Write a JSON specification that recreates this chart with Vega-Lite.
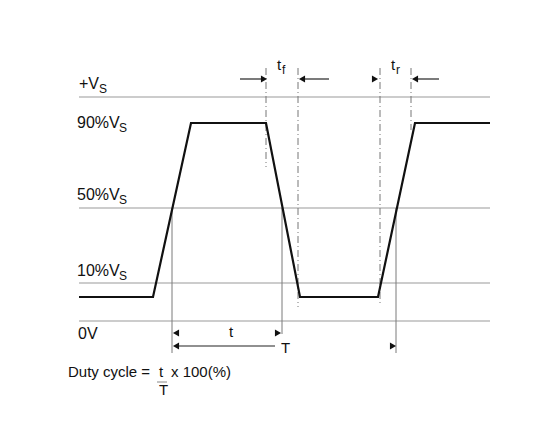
{
  "$schema": "https://vega.github.io/schema/vega-lite/v6.json",
  "width": 546,
  "height": 441,
  "autosize": {"type": "fit", "contains": "padding"},
  "padding": 0,
  "background": "white",
  "config": {"view": {"stroke": null}},
  "datasets": {
    "levels": [
      {"name": "+Vs", "x": 79, "x2": 490, "y": 97},
      {"name": "50%Vs", "x": 79, "x2": 490, "y": 208},
      {"name": "10%Vs", "x": 79, "x2": 490, "y": 283},
      {"name": "0V", "x": 79, "x2": 490, "y": 321}
    ],
    "wave": [
      {"i": 0, "x": 79, "y": 297},
      {"i": 1, "x": 153, "y": 297},
      {"i": 2, "x": 191, "y": 123},
      {"i": 3, "x": 266, "y": 123},
      {"i": 4, "x": 300, "y": 297},
      {"i": 5, "x": 378, "y": 297},
      {"i": 6, "x": 415, "y": 123},
      {"i": 7, "x": 490, "y": 123}
    ],
    "markers": [
      {"x": 172, "y": 208, "y2": 353},
      {"x": 282, "y": 208, "y2": 334},
      {"x": 396, "y": 208, "y2": 353}
    ],
    "edges": [
      {"x": 266, "y": 68, "y2": 167},
      {"x": 298, "y": 68, "y2": 307},
      {"x": 380, "y": 68, "y2": 305},
      {"x": 411, "y": 68, "y2": 130}
    ],
    "shafts": [
      {"x": 240, "x2": 262, "y": 79},
      {"x": 305, "x2": 329, "y": 79},
      {"x": 418, "x2": 439, "y": 79},
      {"x": 178, "x2": 275, "y": 346}
    ],
    "fractionBar": [
      {"x": 157, "x2": 167, "y": 382}
    ],
    "headsRight": [
      {"x": 264, "y": 79},
      {"x": 375, "y": 79},
      {"x": 278, "y": 333},
      {"x": 393, "y": 346}
    ],
    "headsLeft": [
      {"x": 302, "y": 79},
      {"x": 415, "y": 79},
      {"x": 176, "y": 333},
      {"x": 176, "y": 346}
    ],
    "levelLabels": [
      {"text": "+V", "x": 79, "y": 89},
      {"text": "90%V", "x": 77, "y": 128},
      {"text": "50%V", "x": 77, "y": 200},
      {"text": "10%V", "x": 77, "y": 276},
      {"text": "0V", "x": 78, "y": 339}
    ],
    "labels": [
      {"text": "Duty cycle =", "x": 68, "y": 377},
      {"text": "t", "x": 159, "y": 377},
      {"text": "x 100(%)", "x": 171, "y": 377},
      {"text": "T", "x": 159, "y": 395},
      {"text": "t", "x": 229, "y": 337},
      {"text": "T", "x": 281, "y": 353},
      {"text": "t", "x": 277, "y": 70},
      {"text": "t", "x": 391, "y": 70}
    ],
    "subs": [
      {"text": "S", "x": 99, "y": 93},
      {"text": "S", "x": 119, "y": 132},
      {"text": "S", "x": 119, "y": 204},
      {"text": "S", "x": 119, "y": 280},
      {"text": "f", "x": 282, "y": 74},
      {"text": "r", "x": 396, "y": 74}
    ]
  },
  "encoding": {
    "x": {"type": "quantitative", "scale": {"domain": [0, 546], "nice": false, "zero": false}, "axis": null},
    "y": {"type": "quantitative", "scale": {"domain": [0, 441], "reverse": true, "nice": false, "zero": false}, "axis": null}
  },
  "layer": [
    {
      "data": {"name": "levels"},
      "mark": {"type": "rule", "color": "#9a9a9a", "strokeWidth": 1.2},
      "encoding": {
        "x": {"field": "x", "type": "quantitative"},
        "x2": {"field": "x2"},
        "y": {"field": "y", "type": "quantitative"}
      }
    },
    {
      "data": {"name": "markers"},
      "mark": {"type": "rule", "color": "#7a7a7a", "strokeWidth": 1},
      "encoding": {
        "x": {"field": "x", "type": "quantitative"},
        "y": {"field": "y", "type": "quantitative"},
        "y2": {"field": "y2"}
      }
    },
    {
      "data": {"name": "edges"},
      "mark": {"type": "rule", "color": "#777777", "strokeWidth": 1, "strokeDash": [7, 3, 1, 3]},
      "encoding": {
        "x": {"field": "x", "type": "quantitative"},
        "y": {"field": "y", "type": "quantitative"},
        "y2": {"field": "y2"}
      }
    },
    {
      "data": {"name": "wave"},
      "mark": {"type": "line", "color": "#111111", "strokeWidth": 2.2, "strokeJoin": "miter"},
      "encoding": {
        "x": {"field": "x", "type": "quantitative"},
        "y": {"field": "y", "type": "quantitative"},
        "order": {"field": "i", "type": "quantitative"}
      }
    },
    {
      "data": {"name": "shafts"},
      "mark": {"type": "rule", "color": "#222222", "strokeWidth": 1.2},
      "encoding": {
        "x": {"field": "x", "type": "quantitative"},
        "x2": {"field": "x2"},
        "y": {"field": "y", "type": "quantitative"}
      }
    },
    {
      "data": {"name": "fractionBar"},
      "mark": {"type": "rule", "color": "#888888", "strokeWidth": 1},
      "encoding": {
        "x": {"field": "x", "type": "quantitative"},
        "x2": {"field": "x2"},
        "y": {"field": "y", "type": "quantitative"}
      }
    },
    {
      "data": {"name": "headsRight"},
      "mark": {"type": "point", "shape": "triangle-right", "filled": true, "color": "#111111", "size": 50, "opacity": 1},
      "encoding": {
        "x": {"field": "x", "type": "quantitative"},
        "y": {"field": "y", "type": "quantitative"}
      }
    },
    {
      "data": {"name": "headsLeft"},
      "mark": {"type": "point", "shape": "triangle-left", "filled": true, "color": "#111111", "size": 50, "opacity": 1},
      "encoding": {
        "x": {"field": "x", "type": "quantitative"},
        "y": {"field": "y", "type": "quantitative"}
      }
    },
    {
      "data": {"name": "levelLabels"},
      "mark": {"type": "text", "font": "Liberation Sans", "fontSize": 16, "align": "left", "baseline": "alphabetic", "color": "#111111"},
      "encoding": {
        "x": {"field": "x", "type": "quantitative"},
        "y": {"field": "y", "type": "quantitative"},
        "text": {"field": "text"}
      }
    },
    {
      "data": {"name": "labels"},
      "mark": {"type": "text", "font": "Liberation Sans", "fontSize": 15, "align": "left", "baseline": "alphabetic", "color": "#111111"},
      "encoding": {
        "x": {"field": "x", "type": "quantitative"},
        "y": {"field": "y", "type": "quantitative"},
        "text": {"field": "text"}
      }
    },
    {
      "data": {"name": "subs"},
      "mark": {"type": "text", "font": "Liberation Sans", "fontSize": 12, "align": "left", "baseline": "alphabetic", "color": "#111111"},
      "encoding": {
        "x": {"field": "x", "type": "quantitative"},
        "y": {"field": "y", "type": "quantitative"},
        "text": {"field": "text"}
      }
    }
  ]
}
